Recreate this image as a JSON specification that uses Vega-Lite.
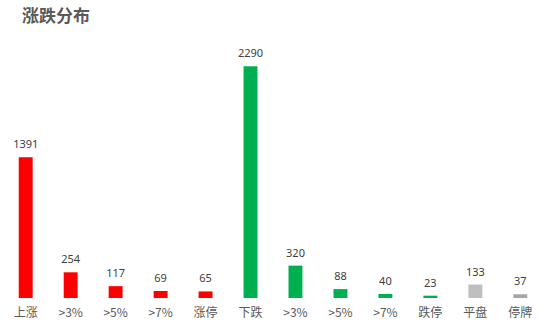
{
  "$schema": "https://vega.github.io/schema/vega-lite/v6.json",
  "autosize": "none",
  "width": 540,
  "height": 253,
  "padding": {"left": 3, "top": 45, "right": 5, "bottom": 32},
  "background": "white",
  "title": {"text": "涨跌分布", "anchor": "start", "frame": "group", "dx": 19, "offset": 19, "fontSize": 17, "fontWeight": "bold", "color": "#595959", "font": "Noto Sans CJK SC"},
  "data": {"values": [
    {"i": 0, "label": "上涨", "v": 1391, "c": "red"},
    {"i": 1, "label": ">3%", "v": 254, "c": "red"},
    {"i": 2, "label": ">5%", "v": 117, "c": "red"},
    {"i": 3, "label": ">7%", "v": 69, "c": "red"},
    {"i": 4, "label": "涨停", "v": 65, "c": "red"},
    {"i": 5, "label": "下跌", "v": 2290, "c": "green"},
    {"i": 6, "label": ">3%", "v": 320, "c": "green"},
    {"i": 7, "label": ">5%", "v": 88, "c": "green"},
    {"i": 8, "label": ">7%", "v": 40, "c": "green"},
    {"i": 9, "label": "跌停", "v": 23, "c": "green"},
    {"i": 10, "label": "平盘", "v": 133, "c": "flat"},
    {"i": 11, "label": "停牌", "v": 37, "c": "halt"}
  ]},
  "encoding": {
    "x": {"field": "i", "type": "ordinal", "scale": {"paddingInner": 0.69, "paddingOuter": 0.35},
      "axis": {"title": null, "domain": false, "ticks": false, "labelAngle": 0, "labelPadding": 9, "labelFontSize": 12, "labelColor": "#595959", "labelFont": "Noto Sans CJK SC",
        "labelExpr": "['上涨','>3%','>5%','>7%','涨停','下跌','>3%','>5%','>7%','跌停','平盘','停牌'][datum.value]"}},
    "y": {"field": "v", "type": "quantitative", "scale": {"domain": [0, 2500]}, "axis": null}
  },
  "layer": [
    {"mark": {"type": "bar"},
     "encoding": {"color": {"field": "c", "type": "nominal", "legend": null,
       "scale": {"domain": ["red", "green", "flat", "halt"], "range": ["#ff0000", "#00b050", "#bfbfbf", "#a6a6a6"]}}}},
    {"mark": {"type": "text", "dy": -7, "baseline": "bottom", "fontSize": 11, "color": "#404040", "font": "Noto Sans"},
     "encoding": {"text": {"field": "v", "type": "quantitative"}}}
  ],
  "config": {"view": {"stroke": null}}
}
